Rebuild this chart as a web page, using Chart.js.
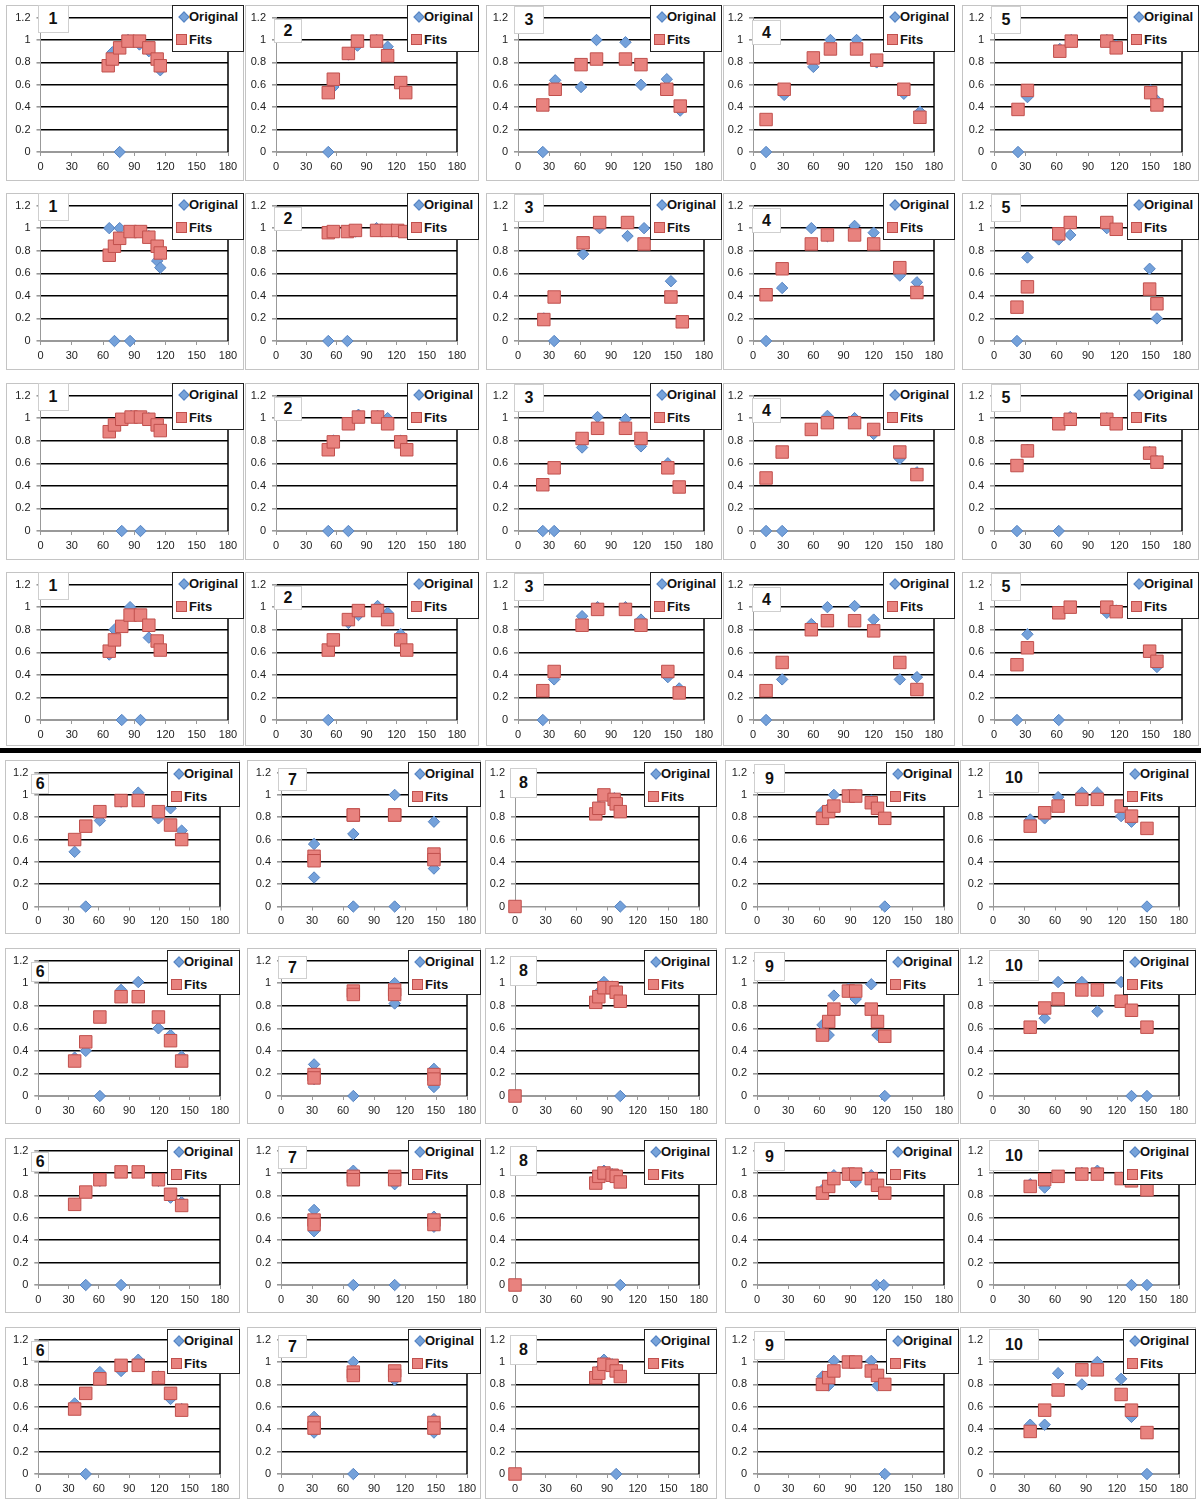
<!DOCTYPE html>
<html>
<head>
<meta charset="utf-8">
<script src="https://cdn.jsdelivr.net/npm/chart.js@4.4.1/dist/chart.umd.min.js"></script>
<style>
  body { margin: 0; background: #fff; width: 1201px; height: 1500px; position: relative; overflow: hidden; font-family: 'Liberation Sans', Arial, sans-serif; }
  canvas { position: absolute; }
  .panel { position: absolute; border: 1px solid #c4c4c4; box-sizing: border-box; }
  .num { position: absolute; background: #fff; border: 1px solid #cfcfcf; box-sizing: border-box; font-weight: bold; font-size: 16px; color: #111; display: flex; align-items: center; justify-content: center; }
  .legend { position: absolute; background: #fff; border: 1px solid #222; box-sizing: border-box; font-weight: bold; font-size: 13px; color: #111; }
  .legend span { position: absolute; line-height: 16px; }
  .dia { position: absolute; width: 6px; height: 6px; background: #77a3da; border: 1px solid #5583c2; transform: rotate(45deg); }
  .sq { position: absolute; width: 9px; height: 9px; background: #e8827e; border: 1px solid #c0504d; }
  .sep { position: absolute; left: 0; top: 748px; width: 1201px; height: 5px; background: #000; }
</style>
</head>
<body>
<div class="sep"></div>
<script>
const xTicks = [0, 30, 60, 90, 120, 150, 180];
const yTicks = [0, 0.2, 0.4, 0.6, 0.8, 1, 1.2];
const topNumbers = ['1', '2', '3', '4', '5'];
const bottomNumbers = ['6', '7', '8', '9', '10'];
const seriesNames = ['Original', 'Fits'];

// [angle, value] per panel, one entry per panel in the row
const origRow1 = [
  [[65,0.78],[69,0.89],[76,0],[84,1.0],[95,0.96],[104,0.9],[112,0.82],[115,0.73]],
  [[52,0],[57,0.58],[72,0.87],[81,0.95],[100,1.0],[111,0.94],[124,0.6],[129,0.55]],
  [[24,0],[36,0.64],[61,0.58],[76,1.0],[104,0.98],[119,0.6],[144,0.65],[157,0.37]],
  [[13,0],[31,0.51],[60,0.76],[77,1.0],[103,1.0],[123,0.8],[150,0.52],[166,0.36]],
  [[23,0],[32,0.49],[63,0.92],[74,1.0],[108,1.0],[117,0.95],[150,0.55],[156,0.46]]
];
const fitsRow1 = [
  [[65,0.77],[69,0.83],[76,0.93],[84,0.99],[95,0.99],[104,0.93],[112,0.83],[115,0.77]],
  [[52,0.53],[57,0.65],[72,0.88],[81,0.99],[100,0.99],[111,0.86],[124,0.62],[129,0.53]],
  [[24,0.42],[36,0.56],[61,0.78],[76,0.83],[104,0.83],[119,0.78],[144,0.56],[157,0.41]],
  [[13,0.29],[31,0.56],[60,0.84],[77,0.92],[103,0.92],[123,0.82],[150,0.56],[166,0.31]],
  [[23,0.38],[32,0.55],[63,0.9],[74,0.99],[108,0.99],[117,0.93],[150,0.53],[156,0.42]]
];
const origRow2 = [
  [[66,1.0],[71,0],[76,1.0],[86,0],[96,0.97],[104,0.93],[112,0.71],[115,0.65]],
  [[52,0],[57,0.97],[71,0],[79,0.97],[100,1.0],[110,0.98],[121,0.98],[128,0.97]],
  [[25,0.2],[35,0],[63,0.77],[79,1.0],[106,0.93],[122,1.0],[148,0.53],[159,0.17]],
  [[13,0],[29,0.47],[58,1.0],[74,0.93],[101,1.02],[120,0.96],[146,0.58],[163,0.52]],
  [[22,0],[32,0.74],[62,0.9],[73,0.94],[108,1.0],[117,0.99],[149,0.64],[156,0.2]]
];
const fitsRow2 = [
  [[66,0.76],[71,0.84],[76,0.91],[86,0.97],[96,0.97],[104,0.92],[112,0.84],[115,0.78]],
  [[52,0.96],[57,0.97],[71,0.97],[79,0.98],[100,0.98],[110,0.98],[121,0.98],[128,0.97]],
  [[25,0.19],[35,0.39],[63,0.87],[79,1.05],[106,1.05],[122,0.86],[148,0.39],[159,0.17]],
  [[13,0.41],[29,0.64],[58,0.86],[74,0.94],[101,0.94],[120,0.86],[146,0.65],[163,0.43]],
  [[22,0.3],[32,0.48],[62,0.95],[73,1.05],[108,1.05],[117,0.99],[149,0.46],[156,0.33]]
];
const origRow3 = [
  [[66,0.88],[71,0.95],[78,0],[87,1.02],[96,0],[104,1.0],[112,0.95],[115,0.9]],
  [[52,0],[57,0.8],[72,0],[82,1.03],[101,1.02],[111,1.0],[124,0.8],[130,0.73]],
  [[24,0],[35,0],[62,0.74],[77,1.01],[104,0.99],[119,0.75],[145,0.6],[156,0.39]],
  [[13,0],[29,0],[58,0.9],[74,1.02],[101,1.0],[120,0.86],[146,0.64],[163,0.52]],
  [[22,0],[32,0.72],[62,0],[73,1.01],[108,1.0],[117,0.96],[149,0.7],[156,0.62]]
];
const fitsRow3 = [
  [[66,0.88],[71,0.94],[78,0.99],[87,1.01],[96,1.01],[104,0.99],[112,0.94],[115,0.89]],
  [[52,0.72],[57,0.79],[72,0.95],[82,1.01],[101,1.01],[111,0.95],[124,0.79],[130,0.72]],
  [[24,0.41],[35,0.56],[62,0.82],[77,0.91],[104,0.91],[119,0.82],[145,0.56],[156,0.39]],
  [[13,0.47],[29,0.7],[58,0.9],[74,0.96],[101,0.96],[120,0.9],[146,0.7],[163,0.5]],
  [[22,0.58],[32,0.71],[62,0.95],[73,0.99],[108,0.99],[117,0.95],[149,0.69],[156,0.61]]
];
const origRow4 = [
  [[66,0.58],[71,0.8],[78,0],[86,1.0],[96,0],[104,0.73],[112,0.7],[115,0.63]],
  [[52,0],[57,0.7],[72,0.86],[82,0.93],[101,1.01],[111,0.95],[124,0.76],[130,0.62]],
  [[24,0],[35,0.36],[62,0.92],[77,1.0],[104,1.0],[119,0.89],[145,0.38],[156,0.28]],
  [[13,0],[29,0.36],[58,0.85],[74,1.0],[101,1.01],[120,0.89],[146,0.36],[163,0.38]],
  [[22,0],[32,0.76],[62,0],[73,1.0],[108,0.95],[117,0.97],[149,0.6],[156,0.47]]
];
const fitsRow4 = [
  [[66,0.61],[71,0.71],[78,0.83],[86,0.93],[96,0.93],[104,0.84],[112,0.7],[115,0.62]],
  [[52,0.62],[57,0.71],[72,0.89],[82,0.97],[101,0.97],[111,0.89],[124,0.71],[130,0.62]],
  [[24,0.26],[35,0.43],[62,0.84],[77,0.98],[104,0.98],[119,0.84],[145,0.43],[156,0.24]],
  [[13,0.26],[29,0.51],[58,0.8],[74,0.88],[101,0.88],[120,0.79],[146,0.51],[163,0.27]],
  [[22,0.49],[32,0.64],[62,0.95],[73,1.0],[108,1.0],[117,0.96],[149,0.61],[156,0.52]]
];
const origRow5 = [
  [[36,0.49],[47,0],[61,0.77],[82,0.94],[99,1.02],[119,0.79],[131,0.88],[142,0.68]],
  [[32,0.56],[32,0.26],[70,0.65],[70,0],[110,1.0],[110,0],[148,0.76],[148,0.34]],
  [[0,0],[79,0.85],[82,0.9],[87,1.0],[97,0.97],[99,0.93],[103,0]],
  [[63,0.85],[69,0.88],[74,1.0],[88,1.0],[95,1.0],[110,0.95],[116,0.88],[123,0]],
  [[36,0.78],[50,0.79],[63,0.98],[86,1.02],[101,1.02],[124,0.81],[134,0.76],[149,0]]
];
const fitsRow5 = [
  [[36,0.6],[47,0.72],[61,0.85],[82,0.95],[99,0.95],[119,0.85],[131,0.73],[142,0.6]],
  [[32,0.45],[32,0.41],[70,0.82],[70,0.82],[110,0.82],[110,0.82],[148,0.47],[148,0.42]],
  [[0,0],[79,0.83],[82,0.88],[87,1.0],[97,0.96],[99,0.92],[103,0.85]],
  [[63,0.79],[69,0.85],[74,0.9],[88,0.99],[95,0.99],[110,0.93],[116,0.88],[123,0.79]],
  [[36,0.72],[50,0.84],[63,0.9],[86,0.96],[101,0.96],[124,0.9],[134,0.81],[149,0.7]]
];
const origRow6 = [
  [[36,0.34],[47,0.4],[61,0],[82,0.94],[99,1.01],[119,0.6],[131,0.54],[142,0.35]],
  [[32,0.28],[32,0.15],[70,0],[70,0.93],[110,1.0],[110,0.82],[148,0.24],[148,0.08]],
  [[0,0],[79,0.86],[82,0.92],[87,1.01],[95,0.97],[99,0.94],[103,0]],
  [[63,0.63],[69,0.54],[74,0.89],[88,0.95],[95,0.86],[110,0.99],[116,0.54],[123,0]],
  [[36,0.6],[50,0.69],[63,1.01],[86,1.01],[101,0.75],[124,1.01],[134,0],[149,0]]
];
const fitsRow6 = [
  [[36,0.31],[47,0.48],[61,0.7],[82,0.88],[99,0.88],[119,0.7],[131,0.49],[142,0.31]],
  [[32,0.19],[32,0.16],[70,0.93],[70,0.9],[110,0.94],[110,0.9],[148,0.19],[148,0.15]],
  [[0,0],[79,0.83],[82,0.88],[87,0.96],[95,0.96],[99,0.92],[103,0.84]],
  [[63,0.54],[69,0.66],[74,0.77],[88,0.93],[95,0.93],[110,0.77],[116,0.66],[123,0.53]],
  [[36,0.61],[50,0.78],[63,0.86],[86,0.94],[101,0.94],[124,0.84],[134,0.76],[149,0.61]]
];
const origRow7 = [
  [[36,0.72],[47,0],[61,0.93],[82,0],[99,1.01],[119,0.93],[131,0.78],[142,0.74]],
  [[32,0.67],[32,0.48],[70,1.02],[70,0],[110,0.9],[110,0],[148,0.61],[148,0.52]],
  [[0,0],[79,0.92],[82,0.98],[87,1.02],[95,0.99],[99,0.97],[103,0]],
  [[63,0.85],[69,0.9],[74,0.98],[88,1.0],[95,0.92],[110,0.98],[115,0],[122,0]],
  [[36,0.9],[50,0.87],[63,0.97],[86,1.0],[101,1.02],[124,0.96],[134,0],[149,0]]
];
const fitsRow7 = [
  [[36,0.72],[47,0.83],[61,0.94],[82,1.01],[99,1.01],[119,0.94],[131,0.81],[142,0.71]],
  [[32,0.58],[32,0.54],[70,0.97],[70,0.94],[110,0.97],[110,0.94],[148,0.58],[148,0.54]],
  [[0,0],[79,0.91],[82,0.97],[87,1.0],[95,0.98],[99,0.97],[103,0.92]],
  [[63,0.82],[69,0.88],[74,0.95],[88,0.99],[95,0.99],[110,0.95],[116,0.89],[123,0.82]],
  [[36,0.88],[50,0.94],[63,0.97],[86,0.99],[101,0.99],[124,0.95],[134,0.93],[149,0.85]]
];
const origRow8 = [
  [[36,0.63],[47,0],[61,0.91],[82,0.92],[99,1.02],[119,0.87],[131,0.67],[142,0.58]],
  [[32,0.51],[32,0.37],[70,1.0],[70,0],[110,0.84],[110,0.92],[148,0.49],[148,0.37]],
  [[0,0],[79,0.88],[82,0.93],[87,1.02],[95,0.98],[99,0],[103,0.88]],
  [[63,0.87],[69,0.79],[74,1.01],[88,1.0],[95,1.0],[110,1.01],[116,0.79],[123,0]],
  [[36,0.44],[50,0.44],[63,0.9],[86,0.8],[101,1.0],[124,0.85],[134,0.51],[149,0]]
];
const fitsRow8 = [
  [[36,0.58],[47,0.72],[61,0.85],[82,0.97],[99,0.97],[119,0.86],[131,0.72],[142,0.57]],
  [[32,0.46],[32,0.41],[70,0.91],[70,0.88],[110,0.92],[110,0.88],[148,0.46],[148,0.41]],
  [[0,0],[79,0.86],[82,0.9],[87,0.98],[95,0.97],[99,0.92],[103,0.87]],
  [[63,0.8],[69,0.86],[74,0.92],[88,1.0],[95,1.0],[110,0.92],[116,0.88],[123,0.8]],
  [[36,0.38],[50,0.57],[63,0.75],[86,0.93],[101,0.93],[124,0.71],[134,0.57],[149,0.37]]
];

const origRows = [origRow1, origRow2, origRow3, origRow4, origRow5, origRow6, origRow7, origRow8];
const fitsRows = [fitsRow1, fitsRow2, fitsRow3, fitsRow4, fitsRow5, fitsRow6, fitsRow7, fitsRow8];

// page layout (pixels)
const topCols = [
  { left: 6, x0: 40.5, x180: 228, right: 244 },
  { left: 245, x0: 276, x180: 457, right: 479 },
  { left: 486, x0: 518, x180: 704, right: 722 },
  { left: 723, x0: 753, x180: 934, right: 955 },
  { left: 962, x0: 994, x180: 1182, right: 1199 }
];
const bottomCols = [
  { left: 5, x0: 38.3, x180: 220, right: 240 },
  { left: 247, x0: 281, x180: 467, right: 481 },
  { left: 485, x0: 515, x180: 699, right: 717 },
  { left: 725, x0: 757, x180: 944, right: 959 },
  { left: 960, x0: 993, x180: 1179, right: 1196 }
];
const rowGeom = [
  { top: 5, y12: 14, y0: 152, bottom: 181 },
  { top: 193, y12: 202, y0: 341, bottom: 370 },
  { top: 383, y12: 392, y0: 531, bottom: 560 },
  { top: 572, y12: 581, y0: 720, bottom: 746 },
  { top: 760, y12: 769, y0: 906.5, bottom: 934 },
  { top: 948, y12: 958, y0: 1096, bottom: 1124 },
  { top: 1138, y12: 1147, y0: 1285, bottom: 1313 },
  { top: 1327, y12: 1336, y0: 1474, bottom: 1499 }
];
const topBoxes = [
  { dx: -3, dy: 0, w: 31, h: 28 }, { dx: -2, dy: 14, w: 28, h: 24 }, { dx: -4, dy: 1, w: 30, h: 28 },
  { dx: -1, dy: 15, w: 29, h: 25 }, { dx: -3, dy: 1, w: 30, h: 28 }
];
const bottomBoxes = [
  { dx: -7, dy: 14, w: 18, h: 20 }, { dx: -3, dy: 8, w: 29, h: 23 }, { dx: -5, dy: 8, w: 27, h: 30 },
  { dx: -3, dy: 4, w: 31, h: 29 }, { dx: -4, dy: 2, w: 50, h: 31 }
];
const YW = 30, XH = 22;
const tickFont = { family: "'Liberation Sans', Arial, sans-serif", size: 11 };

// black frame line on the right side of the plot
const rightFrame = {
  id: 'rightFrame',
  beforeDatasetsDraw(chart) {
    const { ctx, chartArea: a } = chart;
    ctx.save();
    ctx.strokeStyle = '#000';
    ctx.lineWidth = 1.5;
    ctx.beginPath();
    ctx.moveTo(a.right, a.top);
    ctx.lineTo(a.right, a.bottom);
    ctx.stroke();
    ctx.restore();
  }
};

function addDiv(cls, l, t, w, h, html) {
  const d = document.createElement('div');
  d.className = cls;
  d.style.left = l + 'px';
  d.style.top = t + 'px';
  d.style.width = w + 'px';
  d.style.height = h + 'px';
  if (html) d.innerHTML = html;
  document.body.appendChild(d);
  return d;
}

function makePanel(col, row, box, label, orig, fits, bottomSet) {
  const W = col.right - col.left, H = row.bottom - row.top;
  const cl = col.x0 - col.left, cr = col.x180 - col.left;
  const ct = row.y12 - row.top, cb = row.y0 - row.top;

  const cv = document.createElement('canvas');
  cv.width = W; cv.height = H;
  cv.style.left = col.left + 'px';
  cv.style.top = row.top + 'px';
  cv.style.width = W + 'px';
  cv.style.height = H + 'px';
  document.body.appendChild(cv);

  new Chart(cv, {
    type: 'scatter',
    data: {
      datasets: [
        {
          label: seriesNames[0],
          data: orig.map(p => ({ x: p[0], y: p[1] })),
          pointStyle: 'rectRot', pointRadius: 5.7,
          backgroundColor: '#74a1da', borderColor: '#5583c2', borderWidth: 1,
          order: 1, clip: false
        },
        {
          label: seriesNames[1],
          data: fits.map(p => ({ x: p[0], y: p[1] })),
          pointStyle: 'rect', pointRadius: 8.8,
          backgroundColor: '#e8827e', borderColor: '#c0504d', borderWidth: 1,
          order: 0, clip: false
        }
      ]
    },
    options: {
      responsive: false,
      animation: false,
      events: [],
      layout: { padding: { left: cl - YW, right: W - cr, top: ct, bottom: H - cb - XH } },
      plugins: { legend: { display: false }, tooltip: { enabled: false } },
      scales: {
        x: {
          type: 'linear', min: xTicks[0], max: xTicks[xTicks.length - 1],
          afterBuildTicks: s => { s.ticks = xTicks.map(v => ({ value: v })); },
          afterFit: s => { s.height = XH; },
          ticks: { color: '#222', font: tickFont, padding: 4, maxRotation: 0, autoSkip: false },
          grid: { drawOnChartArea: false, drawTicks: true, tickLength: 4, color: '#999' },
          border: { color: '#999', width: 1 }
        },
        y: {
          min: yTicks[0], max: yTicks[yTicks.length - 1],
          afterBuildTicks: s => { s.ticks = yTicks.map(v => ({ value: v })); },
          afterFit: s => { s.width = YW; },
          ticks: { color: '#222', font: tickFont, padding: 6, callback: v => String(+(+v).toFixed(1)) },
          grid: {
            color: c => (c.tick && c.tick.value === 0 ? '#999' : '#000'),
            lineWidth: 1.6, tickLength: 4, tickColor: '#999'
          },
          border: { color: '#999', width: 1 }
        }
      }
    },
    plugins: [rightFrame]
  });

  addDiv('panel', col.left, row.top, W, H);
  addDiv('num', col.x0 + box.dx, row.top + box.dy, box.w, box.h, label);

  const lw = bottomSet ? 73 : 72, lh = bottomSet ? 45 : 47;
  const lg = addDiv('legend', col.right - lw, row.top + (bottomSet ? 2 : 0), lw, lh);
  lg.innerHTML =
    '<div class="dia" style="left:7px;top:7px"></div>' +
    '<span style="left:16px;top:3px">' + seriesNames[0] + '</span>' +
    '<div class="sq" style="left:3px;top:28px"></div>' +
    '<span style="left:16px;top:26px">' + seriesNames[1] + '</span>';
}

for (let r = 0; r < 8; r++) {
  const bottomSet = r >= 4;
  const cols = bottomSet ? bottomCols : topCols;
  const boxes = bottomSet ? bottomBoxes : topBoxes;
  const nums = bottomSet ? bottomNumbers : topNumbers;
  for (let c = 0; c < 5; c++) {
    makePanel(cols[c], rowGeom[r], boxes[c], nums[c], origRows[r][c], fitsRows[r][c], bottomSet);
  }
}
</script>
</body>
</html>
